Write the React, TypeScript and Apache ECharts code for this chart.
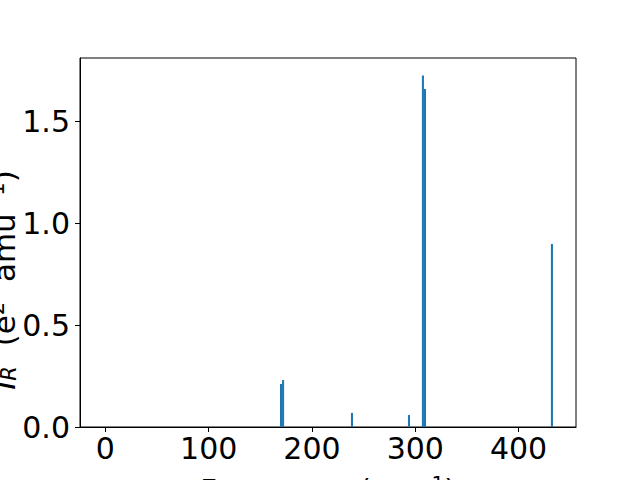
import React, { useEffect, useRef } from "react";
import * as echarts from "echarts";

const frequencies = [170.0, 172.0, 238.7, 293.9, 307.4, 309.4, 432.3];
const intensities = [0.211, 0.23, 0.069, 0.059, 1.723, 1.657, 0.897];
const xTicks = [0, 100, 200, 300, 400];
const yTicks = [0, 0.5, 1.0, 1.5];
const xLabel = "Frequency";
const yLabelMain = "I";
const yLabelSub = "R";

const FONT = "DejaVu Sans";

export default function App() {
  const ref = useRef<HTMLDivElement>(null);
  useEffect(() => {
    if (!ref.current) return;
    const chart = echarts.init(ref.current, null, { renderer: "svg" });
    const data = frequencies.map((f, i) => [f, intensities[i]]);
    chart.setOption({
      animation: false,
      backgroundColor: "#ffffff",
      grid: {
        left: 80,
        right: 64,
        top: 58,
        bottom: 53,
        containLabel: false,
        outerBoundsMode: "none",
        show: true,
        borderColor: "#000",
        borderWidth: 1,
        backgroundColor: "transparent",
      },
      xAxis: {
        type: "value",
        min: -24.6,
        max: 455.6,
        splitLine: { show: false },
        axisLine: { show: true, onZero: false, lineStyle: { color: "#000", width: 1 } },
        axisTick: { show: true, length: 5, customValues: xTicks, lineStyle: { color: "#000", width: 1 } },
        axisLabel: {
          customValues: xTicks,
          color: "#000",
          fontFamily: FONT,
          fontSize: 30,
          margin: 6,
          formatter: (v: number) => String(Math.round(v)),
        },
      },
      yAxis: {
        type: "value",
        min: 0,
        max: 1.809,
        splitLine: { show: false },
        axisLine: { show: true, onZero: false, lineStyle: { color: "#000", width: 1 } },
        axisTick: { show: true, length: 5, customValues: yTicks, lineStyle: { color: "#000", width: 1 } },
        axisLabel: {
          customValues: yTicks,
          color: "#000",
          fontFamily: FONT,
          fontSize: 30,
          margin: 10,
          formatter: (v: number) => v.toFixed(1),
        },
      },
      graphic: [
        {
          type: "text",
          x: 328,
          y: 473,
          style: {
            text: "{n|" + xLabel + " (cm}{sup|−1}{n|)}",
            align: "center",
            verticalAlign: "top",
            fill: "#000",
            rich: {
              n: { fontFamily: FONT, fontSize: 29, fill: "#000" },
              sup: { fontFamily: FONT, fontSize: 20, fill: "#000", padding: [0, 0, 14, 0] },
            },
          },
        },
        {
          type: "text",
          x: 4,
          y: 280,
          rotation: Math.PI / 2,
          style: {
            text:
              "{i|" + yLabelMain + "}{sub|" + yLabelSub + "}{n|  (e}{sup|2}{n|  amu}{sup|−1}{n|)}",
            align: "center",
            verticalAlign: "middle",
            fill: "#000",
            rich: {
              i: { fontFamily: FONT, fontSize: 31, fontStyle: "italic", fill: "#000" },
              sub: { fontFamily: FONT, fontSize: 21, fontStyle: "italic", fill: "#000", padding: [10, 0, 0, 0] },
              n: { fontFamily: FONT, fontSize: 31, fill: "#000" },
              sup: { fontFamily: FONT, fontSize: 21, fill: "#000", padding: [0, 0, 14, 0] },
            },
          },
        },
      ],
      series: [
        {
          type: "custom",
          data,
          renderItem: (params: any, api: any) => {
            const x = api.value(0);
            const y = api.value(1);
            const p0 = api.coord([x - 1, y]);
            const p1 = api.coord([x + 1, 0]);
            return {
              type: "rect",
              shape: { x: p0[0], y: p0[1], width: p1[0] - p0[0], height: p1[1] - p0[1] },
              style: { fill: "#1f77b4" },
            };
          },
        },
      ],
    });
    return () => chart.dispose();
  }, []);
  return (
    <div
      ref={ref}
      style={{ position: "fixed", left: 0, top: 0, width: 640, height: 480 }}
    />
  );
}
